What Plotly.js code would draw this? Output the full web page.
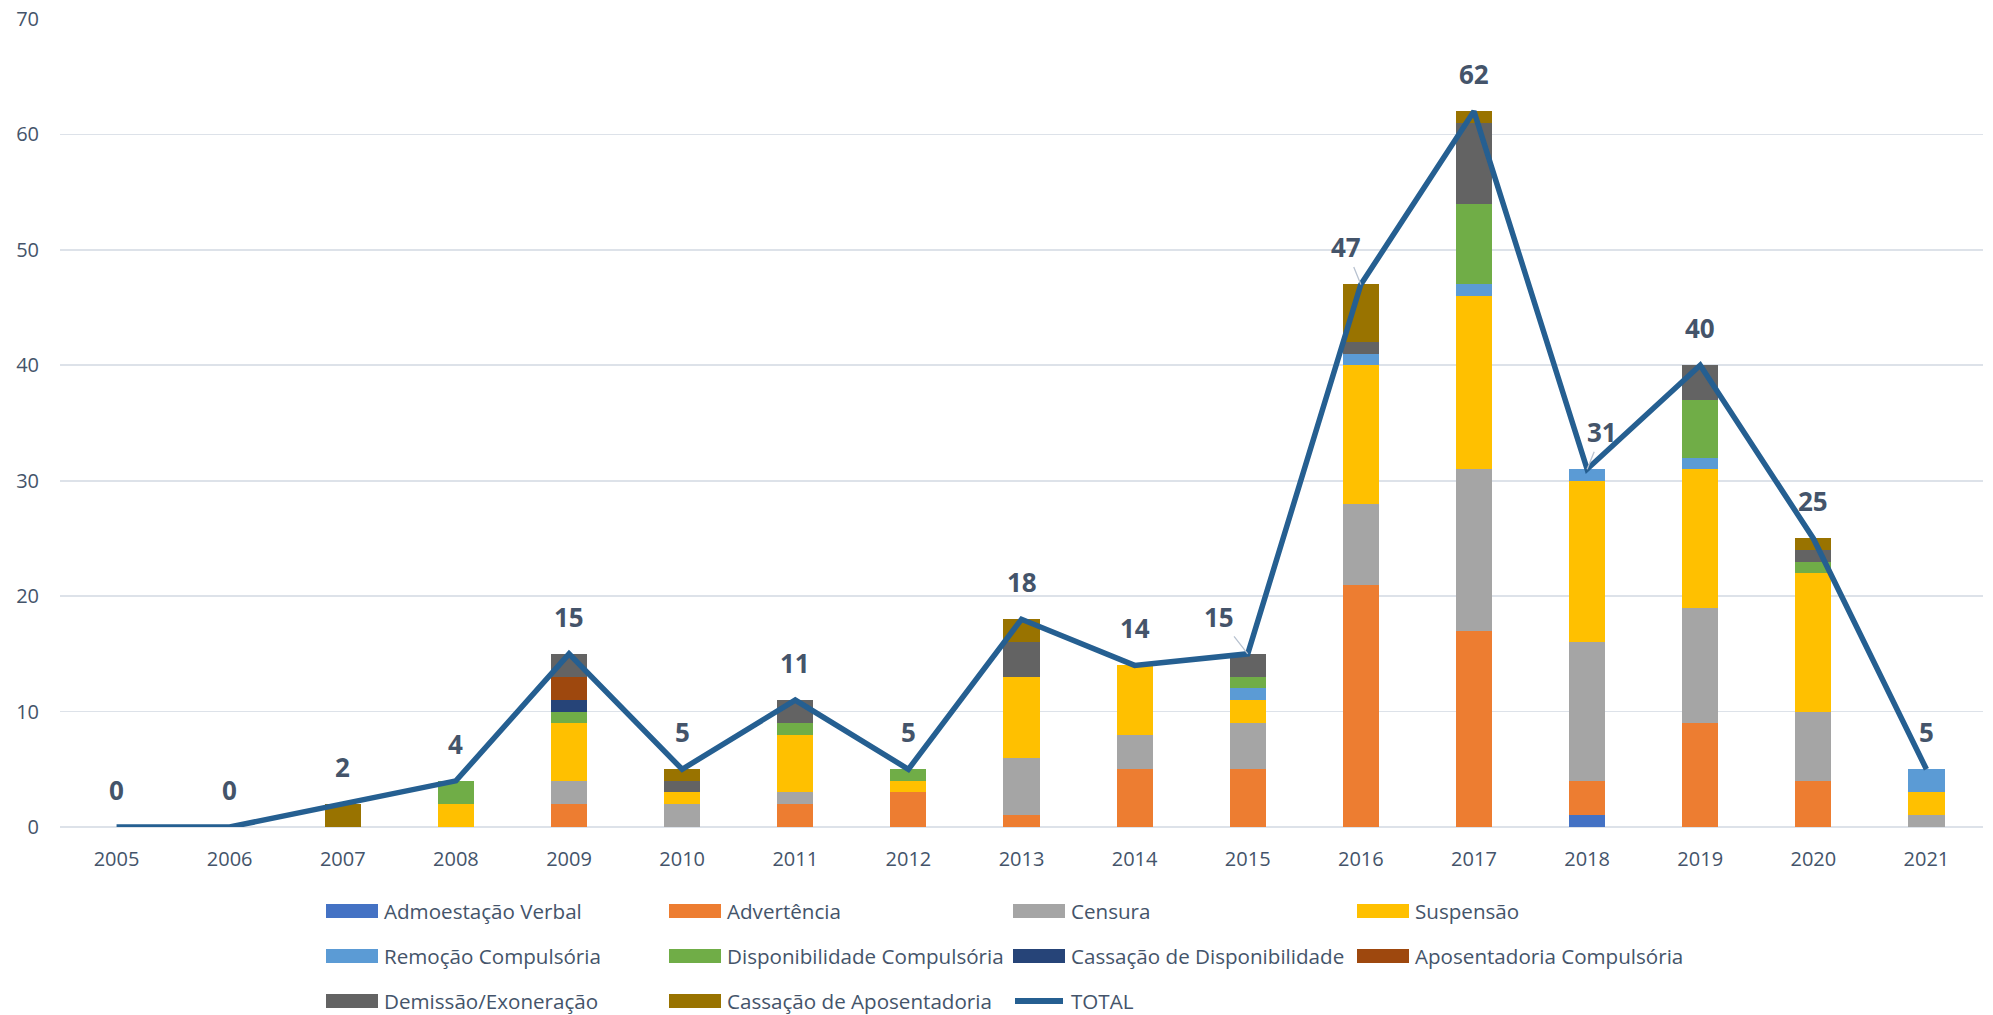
<!DOCTYPE html>
<html>
<head>
<meta charset="utf-8">
<script src="https://cdn.plot.ly/plotly-3.0.1.min.js"></script>
<style>html,body{margin:0;padding:0;background:#fff;}#chart{width:1993px;height:1015px;}</style>
</head>
<body>
<div id="chart"></div>
<script>
// ---- data ----
const years = ['2005','2006','2007','2008','2009','2010','2011','2012','2013','2014','2015','2016','2017','2018','2019','2020','2021'];
const admoestacaoVerbal      = [0,0,0,0,0,0,0,0,0,0,0,0,0,1,0,0,0];
const advertencia            = [0,0,0,0,2,0,2,3,1,5,5,21,17,3,9,4,0];
const censura                = [0,0,0,0,2,2,1,0,5,3,4,7,14,12,10,6,1];
const suspensao              = [0,0,0,2,5,1,5,1,7,6,2,12,15,14,12,12,2];
const remocaoCompulsoria     = [0,0,0,0,0,0,0,0,0,0,1,1,1,1,1,0,2];
const disponibilidadeComp    = [0,0,0,2,1,0,1,1,0,0,1,0,7,0,5,1,0];
const cassacaoDisponib       = [0,0,0,0,1,0,0,0,0,0,0,0,0,0,0,0,0];
const aposentadoriaComp      = [0,0,0,0,2,0,0,0,0,0,0,0,0,0,0,0,0];
const demissaoExoneracao     = [0,0,0,0,2,1,2,0,3,0,2,1,7,0,3,1,0];
const cassacaoAposentadoria  = [0,0,2,0,0,1,0,0,2,0,0,5,1,0,0,1,0];
const total                  = [0,0,2,4,15,5,11,5,18,14,15,47,62,31,40,25,5];
const yTicks = [0,10,20,30,40,50,60,70];

// ---- series definitions (name, values, colour) ----
const series = [
  ['Admoestação Verbal', admoestacaoVerbal, '#4472C4'],
  ['Advertência', advertencia, '#ED7D31'],
  ['Censura', censura, '#A5A5A5'],
  ['Suspensão', suspensao, '#FFC000'],
  ['Remoção Compulsória', remocaoCompulsoria, '#5B9BD5'],
  ['Disponibilidade Compulsória', disponibilidadeComp, '#70AD47'],
  ['Cassação de Disponibilidade', cassacaoDisponib, '#264478'],
  ['Aposentadoria Compulsória', aposentadoriaComp, '#9E480E'],
  ['Demissão/Exoneração', demissaoExoneracao, '#636363'],
  ['Cassação de Aposentadoria', cassacaoAposentadoria, '#997300']
];
const lineColor = '#255F91';
const textColor = '#44546A';
const fontFam = "'Open Sans', 'Noto Sans', sans-serif";

const W = 1993, H = 1015;
const M = {l: 60, r: 10, t: 19, b: 188};
const plotW = W - M.l - M.r, plotH = H - M.t - M.b;
const px2x = p => (p - M.l) / plotW;
const px2y = p => (H - M.b - p) / plotH;

const traces = series.map(s => ({
  type: 'bar', name: s[0], x: years, y: s[1],
  marker: {color: s[2], line: {width: 0}},
  hoverinfo: 'skip'
}));
traces.push({
  type: 'scatter', mode: 'lines', name: 'TOTAL', x: years, y: total,
  line: {color: lineColor, width: 5.5},
  hoverinfo: 'skip'
});

// data labels (some moved with leader lines, as in the reference)
const labelMoves = {'2015': -29, '2016': -15, '2018': 15};
const annotations = years.map((yr, i) => {
  const base = {
    x: i, y: total[i], xref: 'x', yref: 'y', text: String(total[i]),
    font: {family: fontFam, size: 26, color: textColor, weight: 'bold'}
  };
  if (labelMoves[yr] !== undefined) {
    return Object.assign(base, {showarrow: true, ax: labelMoves[yr], ay: -37,
      arrowhead: 0, arrowwidth: 1.3, arrowcolor: '#B8C2D0', standoff: 0, startstandoff: 0});
  }
  return Object.assign(base, {showarrow: false, yanchor: 'middle', yshift: 37});
});

// custom legend (4 columns x 3 rows)
const shapes = [];
const colX = [326, 669, 1013, 1357];
const rowY = [911, 956, 1001];
const legendItems = series.map(s => ({name: s[0], color: s[2], kind: 'bar'}));
legendItems.push({name: 'TOTAL', color: lineColor, kind: 'line'});
legendItems.forEach((it, k) => {
  const cx = colX[k % 4], cy = rowY[Math.floor(k / 4)];
  if (it.kind === 'bar') {
    shapes.push({type: 'rect', xref: 'paper', yref: 'paper',
      x0: px2x(cx), x1: px2x(cx + 52), y0: px2y(cy + 7), y1: px2y(cy - 7),
      fillcolor: it.color, line: {width: 0}});
  } else {
    shapes.push({type: 'line', xref: 'paper', yref: 'paper',
      x0: px2x(cx + 2), x1: px2x(cx + 50), y0: px2y(cy), y1: px2y(cy),
      line: {color: it.color, width: 6}});
  }
  annotations.push({xref: 'paper', yref: 'paper', x: px2x(cx + 56), y: px2y(cy),
    xanchor: 'left', yanchor: 'middle', showarrow: false, text: it.name,
    font: {family: fontFam, size: 20.6, color: textColor}});
});

const layout = {
  width: W, height: H,
  margin: M,
  paper_bgcolor: '#ffffff', plot_bgcolor: '#ffffff',
  barmode: 'stack', bargap: 0.68,
  showlegend: false,
  hovermode: false,
  font: {family: fontFam, size: 20, color: textColor},
  xaxis: {type: 'category', categoryorder: 'array', categoryarray: years,
    range: [-0.5, years.length - 0.5], autorange: false,
    showgrid: false, showline: false, ticks: '', zeroline: false,
    tickfont: {family: fontFam, size: 20, color: textColor}, ticklabelstandoff: 18, fixedrange: true},
  yaxis: {range: [0, 70], autorange: false, tickvals: yTicks, showgrid: true, gridcolor: '#DDE2E9', gridwidth: 1.6,
    zeroline: true, zerolinecolor: '#DDE2E9', zerolinewidth: 1.6, showline: false, ticks: '',
    tickfont: {family: fontFam, size: 20, color: textColor}, ticklabelstandoff: 20, fixedrange: true},
  annotations: annotations,
  shapes: shapes
};

Plotly.newPlot('chart', traces, layout, {displayModeBar: false, staticPlot: true});
</script>
</body>
</html>
